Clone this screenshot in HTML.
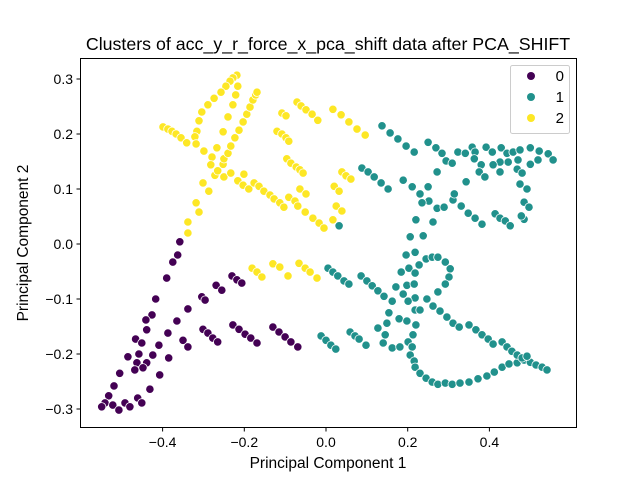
<!DOCTYPE html>
<html><head><meta charset="utf-8"><style>
body{margin:0;background:#fff;}
svg{display:block;font-family:"Liberation Sans","DejaVu Sans",sans-serif;}
</style></head><body>
<svg id="chart" width="640" height="480" viewBox="0 0 640 480" xmlns="http://www.w3.org/2000/svg">
<rect width="640" height="480" fill="#fff"/>
<text x="328" y="50" font-size="17.8" text-anchor="middle">Clusters of acc_y_r_force_x_pca_shift data after PCA_SHIFT</text>
<g id="points"></g>
<rect x="80.5" y="58.5" width="496" height="369" fill="none" stroke="#000" stroke-width="1"/>
<g id="xticks"></g>
<g id="yticks"></g>
<text x="328" y="468" font-size="15.5" text-anchor="middle">Principal Component 1</text>
<text transform="translate(28,243) rotate(-90)" font-size="15.5" text-anchor="middle">Principal Component 2</text>
<g>
<rect x="510.5" y="65.5" width="59" height="68" rx="2" fill="#fff" fill-opacity="0.8" stroke="#ccc"/>
<g><circle cx="531" cy="76" r="4" fill="#440154"/><text x="564" y="81" font-size="15" text-anchor="end">0</text></g>
<g><circle cx="531" cy="97" r="4" fill="#21918c"/><text x="564" y="102" font-size="15" text-anchor="end">1</text></g>
<g><circle cx="531" cy="118" r="4" fill="#fde725"/><text x="564" y="123" font-size="15" text-anchor="end">2</text></g>
</g>
</svg>
<script>
const xTicks=[-0.4,-0.2,0.0,0.2,0.4];
const xTickLabels=["−0.4","−0.2","0.0","0.2","0.4"];
const yTicks=[-0.3,-0.2,-0.1,0.0,0.1,0.2,0.3];
const yTickLabels=["−0.3","−0.2","−0.1","0.0","0.1","0.2","0.3"];
const clusterColors=["#440154","#21918c","#fde725"];
const c0x=[-0.358,-0.363,-0.375,-0.390,-0.417,-0.426,-0.441,-0.439,-0.466,-0.451,-0.409,-0.387,-0.365,-0.338,-0.304,-0.269,-0.230,-0.218,-0.206,-0.255,-0.296,-0.350,-0.338,-0.301,-0.289,-0.277,-0.265,-0.228,-0.213,-0.198,-0.184,-0.169,-0.130,-0.115,-0.100,-0.086,-0.069,-0.485,-0.458,-0.424,-0.385,-0.463,-0.439,-0.505,-0.468,-0.448,-0.407,-0.519,-0.431,-0.532,-0.541,-0.549,-0.522,-0.507,-0.492,-0.480,-0.461,-0.451];
const c0y=[0.004,-0.020,-0.033,-0.062,-0.100,-0.129,-0.138,-0.156,-0.173,-0.180,-0.184,-0.162,-0.140,-0.118,-0.096,-0.075,-0.058,-0.065,-0.071,-0.084,-0.102,-0.175,-0.187,-0.155,-0.162,-0.171,-0.178,-0.147,-0.155,-0.164,-0.171,-0.180,-0.151,-0.160,-0.169,-0.178,-0.187,-0.205,-0.200,-0.202,-0.207,-0.216,-0.216,-0.235,-0.229,-0.225,-0.238,-0.258,-0.264,-0.276,-0.289,-0.296,-0.293,-0.302,-0.289,-0.296,-0.280,-0.289];
const c1x=[0.137,0.157,0.176,0.196,0.216,0.250,0.269,0.284,0.294,0.309,0.323,0.341,0.358,0.365,0.363,0.380,0.375,0.389,0.392,0.407,0.429,0.443,0.458,0.475,0.500,0.522,0.544,0.556,0.519,0.500,0.470,0.446,0.426,0.409,0.426,0.468,0.480,0.272,0.088,0.103,0.118,0.135,0.152,0.189,0.211,0.230,0.250,0.252,0.235,0.272,0.289,0.311,0.314,0.343,0.331,0.348,0.365,0.382,0.414,0.426,0.439,0.451,0.485,0.478,0.475,0.492,0.485,0.497,0.032,0.220,0.262,0.206,0.238,0.005,0.017,0.029,0.044,0.056,0.086,0.100,0.113,0.127,0.142,0.162,-0.012,0.000,0.012,0.024,0.059,0.071,0.081,0.098,0.196,0.218,0.228,0.245,0.260,0.274,0.292,0.304,0.301,0.292,0.274,0.184,0.203,0.218,0.198,0.216,0.171,0.189,0.218,0.201,0.247,0.262,0.279,0.296,0.311,0.326,0.218,0.230,0.154,0.179,0.198,0.220,0.149,0.127,0.145,0.140,0.162,0.181,0.201,0.213,0.211,0.206,0.216,0.218,0.230,0.245,0.260,0.274,0.292,0.309,0.328,0.350,0.372,0.394,0.412,0.431,0.448,0.468,0.485,0.500,0.514,0.529,0.541,0.350,0.367,0.382,0.397,0.409,0.431,0.443,0.455,0.468,0.480,0.492];
const c1y=[0.215,0.202,0.191,0.178,0.167,0.185,0.175,0.165,0.151,0.147,0.167,0.165,0.176,0.167,0.155,0.144,0.131,0.122,0.176,0.167,0.175,0.165,0.167,0.171,0.175,0.169,0.164,0.153,0.153,0.145,0.153,0.149,0.149,0.144,0.131,0.136,0.129,0.131,0.138,0.131,0.122,0.111,0.100,0.116,0.104,0.091,0.104,0.078,0.075,0.065,0.067,0.080,0.091,0.113,0.069,0.056,0.047,0.036,0.055,0.047,0.042,0.033,0.045,0.051,0.109,0.100,0.076,0.067,0.033,0.044,0.040,0.013,0.015,-0.044,-0.051,-0.058,-0.067,-0.073,-0.058,-0.067,-0.076,-0.085,-0.095,-0.104,-0.167,-0.175,-0.184,-0.191,-0.160,-0.167,-0.173,-0.184,-0.020,-0.015,-0.038,-0.027,-0.024,-0.024,-0.033,-0.045,-0.060,-0.073,-0.087,-0.051,-0.044,-0.053,-0.075,-0.073,-0.078,-0.091,-0.098,-0.104,-0.100,-0.113,-0.122,-0.133,-0.144,-0.151,-0.120,-0.120,-0.125,-0.136,-0.140,-0.147,-0.144,-0.153,-0.165,-0.180,-0.189,-0.187,-0.178,-0.165,-0.187,-0.202,-0.213,-0.224,-0.235,-0.244,-0.251,-0.255,-0.253,-0.255,-0.253,-0.251,-0.245,-0.240,-0.233,-0.224,-0.218,-0.216,-0.211,-0.215,-0.220,-0.224,-0.229,-0.147,-0.156,-0.165,-0.173,-0.182,-0.178,-0.187,-0.195,-0.202,-0.207,-0.204];
const c2x=[-0.218,-0.228,-0.235,-0.245,-0.257,-0.274,-0.289,-0.304,-0.311,-0.316,-0.321,-0.399,-0.387,-0.377,-0.367,-0.355,-0.341,-0.318,-0.299,-0.279,-0.282,-0.272,-0.250,-0.265,-0.252,-0.250,-0.240,-0.233,-0.223,-0.213,-0.203,-0.194,-0.186,-0.179,-0.172,-0.169,-0.216,-0.221,-0.228,-0.240,-0.252,-0.267,-0.301,-0.287,-0.318,-0.311,-0.338,-0.338,-0.233,-0.201,-0.216,-0.203,-0.189,-0.176,-0.164,-0.152,-0.137,-0.127,-0.113,-0.103,-0.071,-0.061,-0.049,-0.034,-0.020,-0.108,-0.098,-0.120,-0.108,-0.098,-0.091,-0.096,-0.086,-0.073,-0.064,-0.056,-0.064,-0.049,-0.091,-0.076,-0.069,-0.051,-0.032,-0.017,-0.005,0.017,0.037,0.056,0.076,0.096,0.020,0.032,0.039,0.049,0.061,0.025,0.039,0.017,-0.181,-0.169,-0.157,-0.130,-0.113,-0.093,-0.066,-0.051,-0.039,-0.022];
const c2y=[0.307,0.302,0.296,0.287,0.276,0.265,0.253,0.240,0.224,0.205,0.195,0.213,0.209,0.205,0.200,0.193,0.184,0.182,0.169,0.158,0.144,0.125,0.122,0.133,0.145,0.155,0.165,0.178,0.193,0.207,0.222,0.236,0.249,0.262,0.271,0.276,0.287,0.271,0.253,0.231,0.204,0.175,0.111,0.096,0.075,0.058,0.040,0.020,0.129,0.127,0.115,0.107,0.100,0.111,0.105,0.096,0.089,0.082,0.075,0.067,0.258,0.251,0.244,0.236,0.225,0.238,0.233,0.205,0.200,0.193,0.187,0.155,0.147,0.140,0.135,0.129,0.100,0.091,0.085,0.078,0.069,0.058,0.047,0.038,0.029,0.245,0.235,0.222,0.209,0.198,0.105,0.096,0.131,0.124,0.118,0.069,0.060,0.044,-0.044,-0.051,-0.060,-0.036,-0.042,-0.058,-0.035,-0.044,-0.051,-0.062];

const NS="http://www.w3.org/2000/svg";
const sx=v=>326+v*408.5;
const sy=v=>244-v*550;
const pts=document.getElementById('points');
function drawCluster(xs,ys,k){
  for(let i=0;i<xs.length;i++){
    const c=document.createElementNS(NS,'circle');
    
    
    c.setAttribute('cx',sx(xs[i]).toFixed(1));
    c.setAttribute('cy',sy(ys[i]).toFixed(1));
    c.setAttribute('r','4.2');
    c.setAttribute('fill',clusterColors[k]);
    c.setAttribute('stroke','#fff');
    c.setAttribute('stroke-width','0.8');
    pts.appendChild(c);
  }
}
drawCluster(c0x,c0y,0);
drawCluster(c1x,c1y,1);
drawCluster(c2x,c2y,2);
const xg=document.getElementById('xticks');
xTicks.forEach((v,i)=>{
  const l=document.createElementNS(NS,'line');
  
  
  l.setAttribute('x1',sx(v));l.setAttribute('x2',sx(v));
  l.setAttribute('y1',427.5);l.setAttribute('y2',431.5);
  l.setAttribute('stroke','#000');
  xg.appendChild(l);
  const t=document.createElementNS(NS,'text');
  
  
  t.setAttribute('x',sx(v));t.setAttribute('y',447);
  t.setAttribute('font-size','14');t.setAttribute('text-anchor','middle');
  t.textContent=xTickLabels[i];
  xg.appendChild(t);
});
const yg=document.getElementById('yticks');
yTicks.forEach((v,i)=>{
  const l=document.createElementNS(NS,'line');
  
  
  l.setAttribute('x1',76.5);l.setAttribute('x2',80.5);
  l.setAttribute('y1',sy(v));l.setAttribute('y2',sy(v));
  l.setAttribute('stroke','#000');
  yg.appendChild(l);
  const t=document.createElementNS(NS,'text');
  
  
  t.setAttribute('x',73);t.setAttribute('y',sy(v)+5);
  t.setAttribute('font-size','14');t.setAttribute('text-anchor','end');
  t.textContent=yTickLabels[i];
  yg.appendChild(t);
});
</script>
</body></html>
